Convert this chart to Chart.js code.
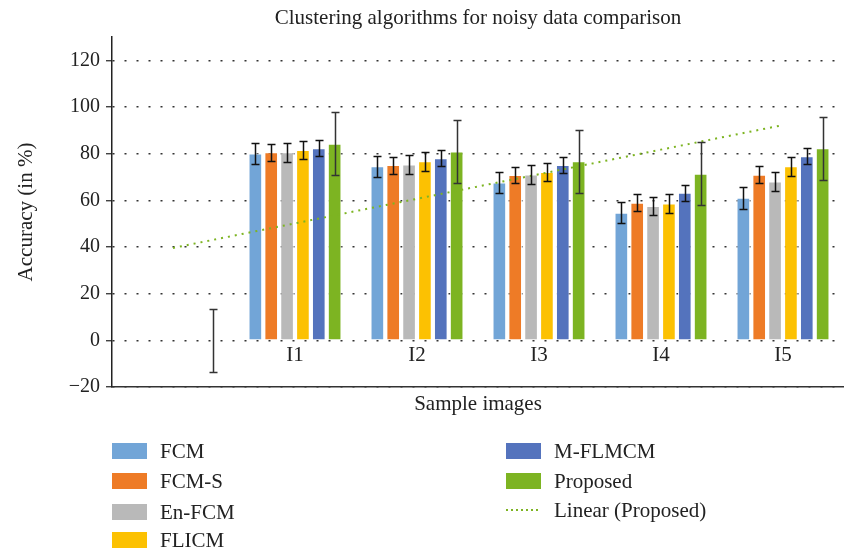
<!DOCTYPE html>
<html>
<head>
<meta charset="utf-8">
<script src="https://cdn.jsdelivr.net/npm/chart.js@4.4.0/dist/chart.umd.min.js"></script>
<style>
  body { margin: 0; background: #fff; font-family: "Liberation Serif", serif; color: #222; }
  #wrap { position: relative; width: 844px; height: 551px; }
  #title { position: absolute; top: 5px; left: 0; width: 956px; text-align: center; font-size: 21px; line-height: 24px; }
  .item { position: absolute; height: 24px; line-height: 24px; font-size: 21px; white-space: nowrap; }
  .item .sw { position: absolute; left: 0; top: 4px; width: 35px; height: 16px; }
  .item .dot { position: absolute; left: 0; top: 11px; width: 35px; height: 2px;
               background: repeating-linear-gradient(to right, #7db422 0 2px, transparent 2px 5px); }
  .item span { position: absolute; left: 48px; top: 0; }
</style>
</head>
<body>
<div id="wrap">
  <canvas id="chart" width="844" height="551"></canvas>
  <div id="title">Clustering algorithms for noisy data comparison</div>
  <div id="legend"></div>
</div>
<script>
// categories (first slot is empty in the original sheet)
const categories = ['', 'I1', 'I2', 'I3', 'I4', 'I5'];
const yTicks = [-20, 0, 20, 40, 60, 80, 100, 120];

// accuracy values
const fcm      = [null, 80.1, 74.6, 67.6, 54.7, 61.1];
const fcmS     = [null, 80.6, 75.1, 70.9, 59.0, 71.0];
const enFcm    = [null, 80.6, 75.4, 71.1, 57.6, 68.1];
const flicm    = [null, 81.6, 76.7, 72.1, 58.6, 74.6];
const mFlmcm   = [null, 82.3, 78.0, 75.1, 63.3, 78.9];
const proposed = [0,    84.3, 80.9, 76.7, 71.4, 82.3];

// error bar half lengths
const fcmErr      = [null, 4.6, 4.6, 4.6, 4.6, 4.6];
const fcmSErr     = [null, 3.6, 3.6, 3.6, 3.6, 3.6];
const enFcmErr    = [null, 4.0, 4.0, 4.0, 4.0, 4.0];
const flicmErr    = [null, 4.0, 4.0, 4.0, 4.0, 4.0];
const mFlmcmErr   = [null, 3.4, 3.4, 3.4, 3.4, 3.4];
const proposedErr = [13.4, 13.4, 13.4, 13.4, 13.4, 13.4];

// least squares trend of the proposed series (like excel's linear trendline)
function linearTrend(vals) {
  const n = vals.length;
  let sx = 0, sy = 0, sxx = 0, sxy = 0;
  vals.forEach((v, i) => { sx += i; sy += v; sxx += i * i; sxy += i * v; });
  const b = (n * sxy - sx * sy) / (n * sxx - sx * sx);
  const a = (sy - b * sx) / n;
  return vals.map((v, i) => a + b * i);
}

const errorBars = {
  id: 'errorBars',
  afterDatasetsDraw(chart) {
    const ctx = chart.ctx;
    const y = chart.scales.y;
    chart.data.datasets.forEach((ds, i) => {
      if (!ds.errors) return;
      const meta = chart.getDatasetMeta(i);
      meta.data.forEach((bar, j) => {
        const v = ds.data[j], e = ds.errors[j];
        if (v == null || e == null) return;
        const top = Math.round(y.getPixelForValue(v + e)) + 0.5;
        const bot = Math.round(y.getPixelForValue(v - e)) + 0.5;
        const x = Math.round(bar.x) + 0.5;
        ctx.save();
        ctx.strokeStyle = ds.errorColor || '#111';
        ctx.lineWidth = 1.5;
        ctx.beginPath();
        ctx.moveTo(x, top); ctx.lineTo(x, bot);
        ctx.moveTo(x - 4, top); ctx.lineTo(x + 4, top);
        ctx.moveTo(x - 4, bot); ctx.lineTo(x + 4, bot);
        ctx.stroke();
        ctx.restore();
      });
    });
  }
};

function bar(label, data, errors, color, errorColor) {
  return {
    label: label, data: data, errors: errors, errorColor: errorColor,
    backgroundColor: color, borderColor: 'rgba(255,255,255,0.85)', borderWidth: 1,
    categoryPercentage: 0.78, barPercentage: 0.86
  };
}

Chart.defaults.font.family = '"Liberation Serif", serif';
Chart.defaults.font.size = 20;
Chart.defaults.color = '#222';

const chart = new Chart(document.getElementById('chart').getContext('2d'), {
  type: 'bar',
  data: {
    labels: categories,
    datasets: [
      bar('FCM', fcm, fcmErr, '#72a5d7', '#111'),
      bar('FCM-S', fcmS, fcmSErr, '#ee7b26', '#111'),
      bar('En-FCM', enFcm, enFcmErr, '#b9b9b9', '#111'),
      bar('FLICM', flicm, flicmErr, '#fcc102', '#111'),
      bar('M-FLMCM', mFlmcm, mFlmcmErr, '#5473bd', '#111'),
      bar('Proposed', proposed, proposedErr, '#7db422', '#333'),
      {
        type: 'line', label: 'Linear (Proposed)', data: linearTrend(proposed),
        borderColor: '#7db422', borderWidth: 2, borderDash: [2, 5],
        pointRadius: 0, fill: false, order: -1
      }
    ]
  },
  options: {
    responsive: false,
    animation: false,
    devicePixelRatio: 1,
    layout: { padding: { top: 37, right: 0, bottom: 134, left: 0 } },
    plugins: { legend: { display: false }, tooltip: { enabled: false } },
    scales: {
      x: {
        grid: { display: false, drawTicks: false },
        border: { display: true, color: '#333', width: 1.5 },
        // mirrored so the labels sit just under the zero line, inside the plot
        ticks: { mirror: true, padding: 19, font: { size: 21 } },
        title: { display: true, text: 'Sample images', font: { size: 21 }, padding: { top: 0, bottom: 0 } },
        afterFit(scale) { scale.height = 30; }
      },
      y: {
        min: -20, max: 130,
        ticks: {
          stepSize: 20, padding: 6, font: { size: 20 },
          callback: v => v < 0 ? '\u2212' + Math.abs(v) : v
        },
        afterBuildTicks(scale) { scale.ticks = yTicks.map(v => ({ value: v })); },
        grid: {
          color: '#333', lineWidth: 1.5,
          tickLength: 6, tickColor: '#222', tickWidth: 1.2, tickBorderDash: []
        },
        border: { display: true, color: '#222', width: 1.5, dash: [2, 10] },
        title: { display: true, text: 'Accuracy (in %)', font: { size: 21 }, padding: { top: 14, bottom: 0 } },
        afterFit(scale) { scale.width = 112; }
      }
    }
  },
  plugins: [errorBars]
});

// two column legend like the original figure
const legendSpots = [
  [112, 439], [112, 469], [112, 500], [112, 528],
  [506, 439], [506, 469], [506, 498]
];
const legend = document.getElementById('legend');
chart.data.datasets.forEach((ds, i) => {
  const item = document.createElement('div');
  item.className = 'item';
  item.style.left = legendSpots[i][0] + 'px';
  item.style.top = legendSpots[i][1] + 'px';
  const mark = document.createElement('div');
  if (ds.type === 'line') {
    mark.className = 'dot';
  } else {
    mark.className = 'sw';
    mark.style.background = ds.backgroundColor;
  }
  const txt = document.createElement('span');
  txt.textContent = ds.label;
  item.appendChild(mark);
  item.appendChild(txt);
  legend.appendChild(item);
});
</script>
</body>
</html>
